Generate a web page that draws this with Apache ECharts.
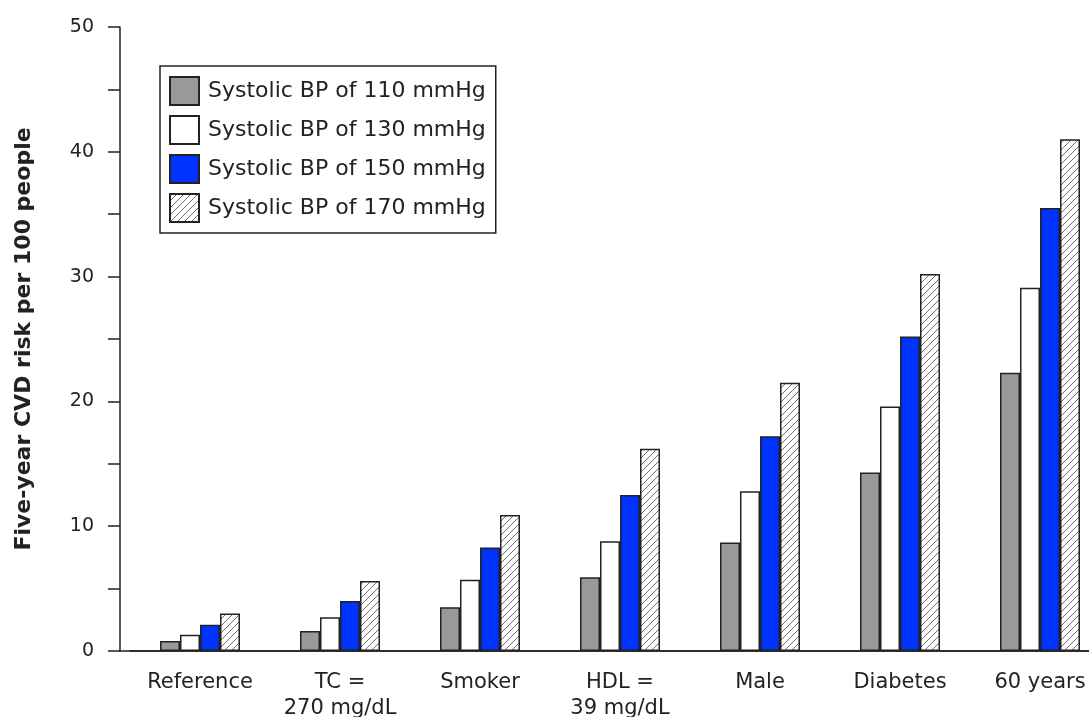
<!DOCTYPE html>
<html>
<head>
<meta charset="utf-8">
<script src="https://cdn.jsdelivr.net/npm/echarts@6/dist/echarts.min.js"></script>
<style>
html,body{margin:0;padding:0;background:#fff;}
#chart{width:1089px;height:717px;}
</style>
</head>
<body>
<div id="chart"></div>
<script>
const categories = ['Reference', 'TC =\n270 mg/dL', 'Smoker', 'HDL =\n39 mg/dL', 'Male', 'Diabetes', '60 years'];
const seriesNames = ['Systolic BP of 110 mmHg', 'Systolic BP of 130 mmHg', 'Systolic BP of 150 mmHg', 'Systolic BP of 170 mmHg'];
const bp110 = [0.8, 1.6, 3.5, 5.9, 8.7, 14.3, 22.3];
const bp130 = [1.3, 2.7, 5.7, 8.8, 12.8, 19.6, 29.1];
const bp150 = [2.1, 4.0, 8.3, 12.5, 17.2, 25.2, 35.5];
const bp170 = [3.0, 5.6, 10.9, 16.2, 21.5, 30.2, 41.0];
const yTicks = { min: 0, max: 50, interval: 10 };

function hatch() {
  const s = 7;
  const c = document.createElement('canvas');
  c.width = s; c.height = s;
  const g = c.getContext('2d');
  g.fillStyle = '#ffffff';
  g.fillRect(0, 0, s, s);
  g.strokeStyle = '#707070';
  g.lineWidth = 1;
  g.beginPath();
  g.moveTo(0, s); g.lineTo(s, 0);
  g.moveTo(-1, 1); g.lineTo(1, -1);
  g.moveTo(s - 1, s + 1); g.lineTo(s + 1, s - 1);
  g.stroke();
  return c;
}

const fills = ['#999999', '#ffffff', '#0033ff', { image: hatch(), repeat: 'repeat' }];
const dataSets = [bp110, bp130, bp150, bp170];
const font = 'DejaVu Sans, Verdana, sans-serif';

const chart = echarts.init(document.getElementById('chart'), null, { renderer: 'canvas' });
chart.setOption({
  animation: false,
  backgroundColor: '#ffffff',
  textStyle: { fontFamily: font, color: '#222' },
  legend: {
    orient: 'vertical',
    left: 160,
    top: 66,
    padding: [10, 10, 10, 9],
    itemGap: 9,
    itemWidth: 29,
    itemHeight: 28,
    icon: 'rect',
    borderColor: '#222',
    borderWidth: 1.5,
    backgroundColor: '#fff',
    textStyle: { fontFamily: font, fontSize: 22, color: '#222', padding: [0, 0, 0, 4] },
    data: seriesNames
  },
  grid: [
    { left: 130, width: 980, top: 27, bottom: 66, outerBoundsMode: 'none', containLabel: false },
    { left: 120, right: 0, top: 27, bottom: 66, outerBoundsMode: 'none', containLabel: false }
  ],
  xAxis: [
    {
      type: 'category',
      gridIndex: 0,
      data: categories,
      axisLine: { show: true, lineStyle: { color: '#222', width: 1.5 } },
      axisTick: { show: false },
      axisLabel: { fontFamily: font, fontSize: 21, color: '#222', margin: 19, lineHeight: 26, interval: 0 }
    },
    {
      type: 'category',
      gridIndex: 1,
      data: ['a'],
      axisLine: { show: true, lineStyle: { color: '#222', width: 1.5 } },
      axisTick: { show: false },
      axisLabel: { show: false }
    }
  ],
  yAxis: [
    {
      type: 'value',
      gridIndex: 0,
      min: yTicks.min,
      max: yTicks.max,
      interval: yTicks.interval,
      offset: 10,
      name: 'Five-year CVD risk per 100 people',
      nameLocation: 'middle',
      nameGap: 85,
      nameTextStyle: { fontFamily: font, fontSize: 22, fontWeight: 'bold', color: '#222' },
      axisLine: { show: true, lineStyle: { color: '#222', width: 1.5 } },
      axisTick: { show: true, length: 12, lineStyle: { color: '#222', width: 1.5 } },
      minorTick: { show: true, splitNumber: 2, length: 12, lineStyle: { color: '#222', width: 1.5 } },
      splitLine: { show: false },
      axisLabel: { fontFamily: font, fontSize: 19, color: '#222', margin: 26 }
    },
    {
      type: 'value',
      gridIndex: 1,
      show: false,
      min: 0,
      max: 1
    }
  ],
  series: seriesNames.map((name, i) => ({
    name: name,
    type: 'bar',
    xAxisIndex: 0,
    yAxisIndex: 0,
    data: dataSets[i],
    barWidth: 20,
    barGap: '0%',
    itemStyle: { color: fills[i], borderColor: '#222', borderWidth: 1.5 }
  }))
});
</script>
</body>
</html>
